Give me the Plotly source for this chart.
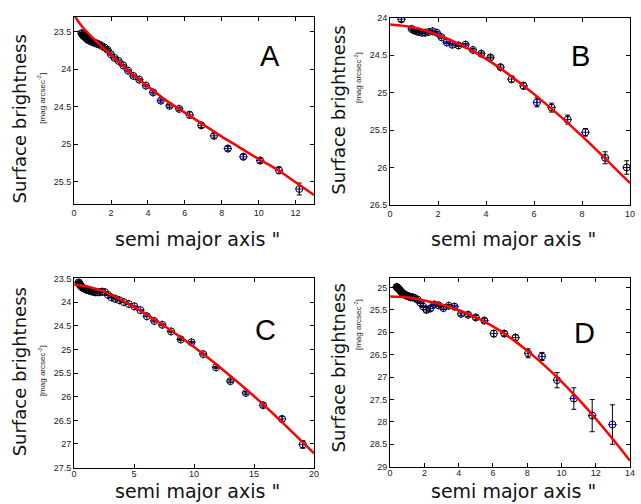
import plotly.graph_objects as go

# ---------------- data ----------------
# Panel A
a_x = [0.40, 0.44, 0.48, 0.53, 0.58, 0.64, 0.70, 0.77, 0.85, 0.93, 1.02, 1.13, 1.24, 1.36,
       1.50, 1.65, 1.81, 1.99, 2.19, 2.41, 2.66, 2.92, 3.21, 3.53, 3.89, 4.28, 4.70, 5.17,
       5.69, 6.26, 6.89, 7.58, 8.33, 9.17, 10.08, 11.10, 12.20]
a_y = [23.52, 23.53, 23.55, 23.56, 23.57, 23.58, 23.60, 23.61, 23.62, 23.63, 23.64, 23.65,
       23.66, 23.67, 23.69, 23.71, 23.74, 23.80, 23.85, 23.89, 23.95, 24.02, 24.09, 24.14,
       24.22, 24.31, 24.42, 24.49, 24.53, 24.61, 24.75, 24.89, 25.06, 25.17, 25.22, 25.35, 25.60]
a_e = [0.01, 0.01, 0.01, 0.01, 0.01, 0.01, 0.01, 0.01, 0.01, 0.01, 0.01, 0.01, 0.01, 0.01,
       0.01, 0.01, 0.015, 0.015, 0.015, 0.015, 0.015, 0.015, 0.015, 0.015, 0.015, 0.02, 0.02,
       0.02, 0.02, 0.04, 0.03, 0.03, 0.03, 0.03, 0.03, 0.045, 0.08]
a_fit_x = [0, 0.25, 0.5, 1, 1.5, 2, 3, 4, 5, 6, 7, 8, 9, 10, 11, 12, 13]
a_fit_y = [23.28, 23.37, 23.45, 23.58, 23.70, 23.81, 24.03, 24.23, 24.42, 24.58, 24.74,
           24.90, 25.05, 25.20, 25.34, 25.51, 25.68]

# Panel B
b_x = [0.47, 0.90, 1.00, 1.10, 1.20, 1.33, 1.46, 1.61, 1.77, 1.95, 2.14, 2.36, 2.59, 2.85,
       3.14, 3.45, 3.80, 4.18, 4.60, 5.06, 5.56, 6.12, 6.73, 7.40, 8.14, 8.96, 9.86]
b_y = [24.02, 24.15, 24.17, 24.18, 24.19, 24.20, 24.20, 24.19, 24.18, 24.20, 24.26, 24.33,
       24.36, 24.37, 24.36, 24.43, 24.48, 24.53, 24.66, 24.82, 24.91, 25.13, 25.20, 25.36,
       25.53, 25.87, 26.00]
b_e = [0.03, 0.015, 0.015, 0.015, 0.015, 0.015, 0.015, 0.015, 0.015, 0.015, 0.015, 0.015,
       0.015, 0.015, 0.015, 0.02, 0.02, 0.02, 0.03, 0.04, 0.04, 0.06, 0.06, 0.06, 0.05,
       0.08, 0.09]
b_fit_x = [0, 1, 2, 3, 4, 5, 6, 7, 8, 9, 10]
b_fit_y = [24.09, 24.13, 24.23, 24.37, 24.55, 24.77, 25.02, 25.29, 25.58, 25.89, 26.21]

# Panel C
c_x = [0.38, 0.42, 0.46, 0.51, 0.56, 0.62, 0.68, 0.75, 0.82, 0.90, 0.99, 1.09, 1.20, 1.32,
       1.45, 1.60, 1.76, 1.93, 2.13, 2.34, 2.57, 2.83, 3.11, 3.43, 3.77, 4.15, 4.56, 5.02,
       5.52, 6.07, 6.68, 7.35, 8.08, 8.89, 9.78, 10.76, 11.83, 13.02, 14.32, 15.75, 17.33,
       19.06]
c_y = [23.58, 23.60, 23.62, 23.64, 23.66, 23.67, 23.69, 23.70, 23.71, 23.72, 23.73, 23.74,
       23.75, 23.76, 23.77, 23.78, 23.79, 23.79, 23.79, 23.78, 23.79, 23.85, 23.90, 23.93,
       23.96, 24.00, 24.04, 24.09, 24.17, 24.30, 24.40, 24.48, 24.62, 24.79, 24.85, 25.10,
       25.38, 25.67, 25.92, 26.18, 26.47, 27.01]
c_e = [0.01] * 30 + [0.02, 0.02, 0.02, 0.02, 0.02, 0.02, 0.02, 0.03, 0.03, 0.04, 0.05, 0.08]
c_fit_x = [0, 1.25, 2.5, 3.75, 5, 7.5, 10, 12.5, 15, 17.5, 20]
c_fit_y = [23.63, 23.68, 23.78, 23.93, 24.10, 24.50, 24.95, 25.45, 25.99, 26.58, 27.20]

# Panel D
d_x = [0.38, 0.42, 0.46, 0.51, 0.56, 0.61, 0.68, 0.74, 0.82, 0.90, 0.99, 1.09, 1.20, 1.32,
       1.45, 1.60, 1.76, 1.93, 2.12, 2.34, 2.57, 2.83, 3.11, 3.42, 3.76, 4.14, 4.55, 5.00,
       5.50, 6.05, 6.66, 7.32, 8.05, 8.86, 9.74, 10.72, 11.79, 12.97]
d_y = [24.99, 25.00, 25.02, 25.03, 25.06, 25.08, 25.11, 25.14, 25.15, 25.17, 25.19, 25.20,
       25.22, 25.22, 25.24, 25.27, 25.34, 25.43, 25.50, 25.47, 25.38, 25.40, 25.46, 25.41,
       25.43, 25.59, 25.61, 25.67, 25.74, 26.03, 26.03, 26.12, 26.47, 26.54, 27.07, 27.48,
       27.86, 28.06]
d_e = [0.02] * 18 + [0.05, 0.05, 0.03, 0.03, 0.03, 0.03, 0.03, 0.04, 0.04, 0.04, 0.04,
       0.07, 0.05, 0.06, 0.10, 0.09, 0.17, 0.24, 0.36, 0.44]
d_fit_x = [0, 1, 2, 3, 4, 5, 6, 7, 8, 9, 10, 11, 12, 13, 14]
d_fit_y = [25.20, 25.22, 25.29, 25.38, 25.51, 25.67, 25.87, 26.12, 26.41, 26.74, 27.10,
           27.50, 27.93, 28.39, 28.87]

panels = [
    dict(name="A", x=a_x, y=a_y, e=a_e, fx=a_fit_x, fy=a_fit_y,
         xr=[0, 13], yr=[23.3, 25.8], xt=[0, 2, 4, 6, 8, 10, 12],
         yt=[23.5, 24, 24.5, 25, 25.5],
         dx=[72, 315], dy=[12, 203], letter=(270, 52), sub=(39, 95), main=(17, 116),
         xtitle=(197, 239), standoff=0),
    dict(name="B", x=b_x, y=b_y, e=b_e, fx=b_fit_x, fy=b_fit_y,
         xr=[0, 10], yr=[24, 26.5], xt=[0, 2, 4, 6, 8, 10],
         yt=[24, 24.5, 25, 25.5, 26, 26.5],
         dx=[392, 635], dy=[13, 204], letter=(585, 52), sub=(359, 74), main=(340, 107),
         xtitle=(517, 239), standoff=0),
    dict(name="C", x=c_x, y=c_y, e=c_e, fx=c_fit_x, fy=c_fit_y,
         xr=[0, 20], yr=[23.5, 27.5], xt=[0, 5, 10, 15, 20],
         yt=[23.5, 24, 24.5, 25, 25.5, 26, 26.5, 27, 27.5],
         dx=[72, 315], dy=[279, 472], letter=(266, 332), sub=(39, 373), main=(17, 374),
         xtitle=(197, 496), standoff=-2),
    dict(name="D", x=d_x, y=d_y, e=d_e, fx=d_fit_x, fy=d_fit_y,
         xr=[0, 14], yr=[24.8, 29], xt=[0, 2, 4, 6, 8, 10, 12, 14],
         yt=[25, 25.5, 26, 26.5, 27, 27.5, 28, 28.5, 29],
         dx=[392, 635], dy=[279, 471], letter=(589, 335), sub=(359, 326), main=(340, 370),
         xtitle=(517, 496), standoff=-2),
]

W, H = 641, 504
fig = go.Figure()
annotations = []
TICKFONT = dict(family="Liberation Sans, Arial, sans-serif", size=9, color="#222222")
XTITLEFONT = dict(family="DejaVu Sans, sans-serif", size=19, color="#111111")
YTITLEFONT = dict(family="DejaVu Sans, sans-serif", size=18, color="#111111")

for i, p in enumerate(panels):
    n = "" if i == 0 else str(i + 1)
    xa, ya = "x" + n, "y" + n
    fig.add_trace(go.Scatter(
        x=p["x"], y=p["y"], mode="markers", xaxis=xa, yaxis=ya, showlegend=False,
        marker=dict(symbol="cross-thin-open", size=6, color="#0000ff",
                    line=dict(width=1, color="#0000ff")),
    ))
    fig.add_trace(go.Scatter(
        x=p["x"], y=p["y"], mode="markers", xaxis=xa, yaxis=ya, showlegend=False,
        marker=dict(symbol="circle-open", size=7, color="black", line=dict(width=1, color="black")),
        error_y=dict(type="data", array=p["e"], color="black", thickness=1, width=2.5),
    ))
    fig.add_trace(go.Scatter(
        x=p["fx"], y=p["fy"], mode="lines", xaxis=xa, yaxis=ya, showlegend=False,
        line=dict(color="#ff0000", width=2.5, shape="spline"),
    ))
    common = dict(showline=True, linecolor="black", linewidth=1, mirror="ticks",
                  ticks="inside", ticklen=4, tickcolor="black", tickwidth=1,
                  showgrid=False, zeroline=False, tickfont=TICKFONT)
    fig.layout["xaxis" + n] = dict(
        domain=[p["dx"][0] / W, p["dx"][1] / W], range=p["xr"], tickvals=p["xt"],
        anchor=ya, ticklabelstandoff=p["standoff"], **common)
    fig.layout["yaxis" + n] = dict(
        domain=[1 - p["dy"][1] / H, 1 - p["dy"][0] / H], range=[p["yr"][1], p["yr"][0]],
        tickvals=p["yt"], ticktext=[("%g" % v) for v in p["yt"]], anchor=xa, **common)

    lx, ly = p["letter"]
    annotations.append(dict(text=p["name"], x=lx / W, y=1 - ly / H, xref="paper", yref="paper",
                            showarrow=False, xanchor="center", yanchor="middle",
                            font=dict(family="Liberation Sans, Arial, sans-serif", size=29,
                                      color="black")))
    tx, ty = p["xtitle"]
    annotations.append(dict(text='semi major axis "', x=tx / W, y=1 - ty / H, xref="paper",
                            yref="paper", showarrow=False, xanchor="center", yanchor="middle",
                            font=XTITLEFONT))
    mx, my = p["main"]
    annotations.append(dict(text="Surface brightness", x=mx / W, y=1 - my / H, xref="paper",
                            yref="paper", showarrow=False, xanchor="center", yanchor="middle",
                            textangle=-90, font=YTITLEFONT))
    sx, sy = p["sub"]
    annotations.append(dict(text="[mag arcsec<sup>-2</sup>]", x=sx / W, y=1 - sy / H,
                            xref="paper", yref="paper", showarrow=False, xanchor="center",
                            yanchor="middle", textangle=-90,
                            font=dict(family="Liberation Sans, Arial, sans-serif", size=8,
                                      color="#222222")))

fig.update_layout(width=W, height=H, margin=dict(l=0, r=0, t=0, b=0),
                  paper_bgcolor="white", plot_bgcolor="white", annotations=annotations)
fig.write_html("out.html", config={"displayModeBar": False},
               post_script="document.body.style.margin='0px';document.body.style.overflow='hidden';")
